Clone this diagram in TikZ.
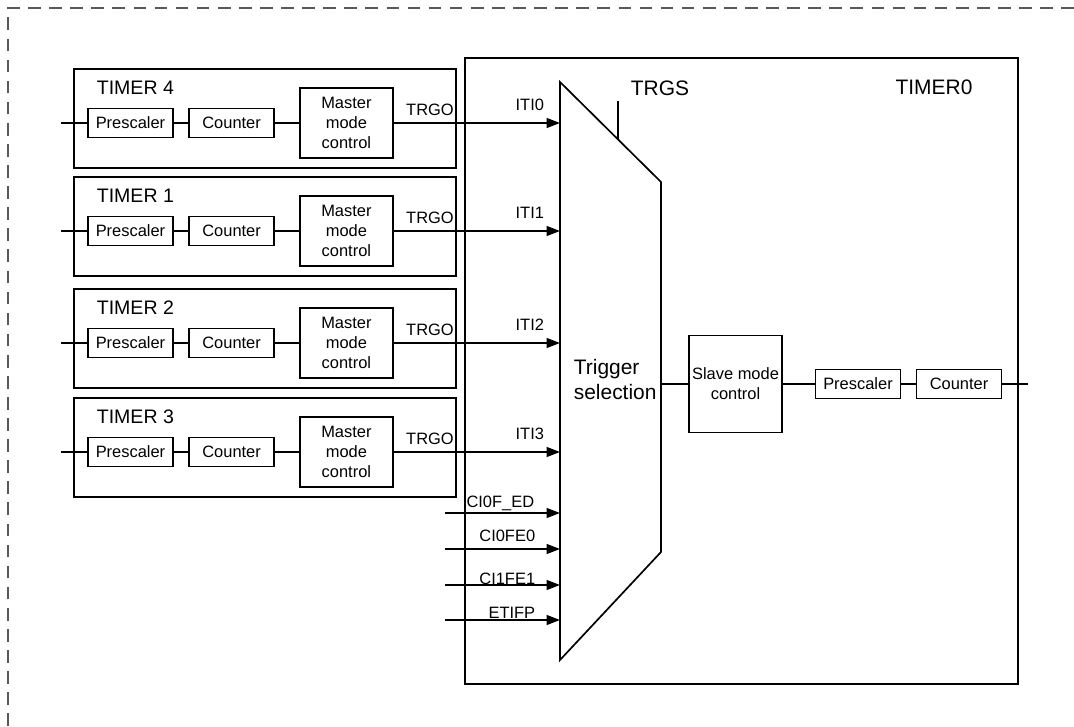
\documentclass[tikz,border=0pt]{standalone}
\usepackage{fontspec}
\setmainfont{Liberation Sans}
\setsansfont{Liberation Sans}
\usetikzlibrary{arrows.meta}

\begin{document}
\begin{tikzpicture}[font=\sffamily, line width=1.2pt,
  box/.style={draw, minimum width=2.125cm, minimum height=0.725cm, inner sep=0pt, font=\fontsize{11.7}{14.2}\selectfont},
  mmc/.style={draw, minimum width=2.325cm, minimum height=1.75cm, inner sep=0pt, align=center, font=\fontsize{11.7}{14.2}\selectfont},
  sig/.style={inner sep=0pt, font=\fontsize{11.7}{14.2}\selectfont},
  tname/.style={anchor=west, inner sep=0pt, font=\fontsize{13.9}{16}\selectfont},
  big/.style={inner sep=0pt, font=\fontsize{14.9}{17.8}\selectfont},
  arr/.style={-{Triangle[length=9.5pt,width=7pt]}}]
  \useasboundingbox (0,0) rectangle (26.85,18.15);

  % outer dashed frame
  \draw[gray!70!black, line width=1.4pt, dash pattern=on 9pt off 6pt] (0.21,0) -- (0.21,17.96) -- (26.85,17.96);

  % TIMER 4
  \draw (1.85,13.95) rectangle (11.4,16.425);
  \node[tname] (t4) at (2.4,15.95) {TIMER 4};
  \node[box] (p4) at (3.2625,15.075) {Prescaler};
  \node[box] (c4) at (5.79,15.075) {Counter};
  \node[mmc] (m4) at (8.66,15.075) {Master\\mode\\control};
  \node[sig] (trgo4) at (10.75,15.4) {TRGO};
  \coordinate (in4) at (1.525,15.075);
  \coordinate (iti0) at (14,15.075);
  \draw (in4) -- (p4) -- (c4) -- (m4);
  \draw[arr] (m4) -- (iti0);
  \node[sig, anchor=east] (iti0l) at (13.62,15.525) {ITI0};

  % TIMER 1
  \draw (1.85,11.25) rectangle (11.4,13.725);
  \node[tname] (t1) at (2.4,13.25) {TIMER 1};
  \node[box] (p1) at (3.2625,12.375) {Prescaler};
  \node[box] (c1) at (5.79,12.375) {Counter};
  \node[mmc] (m1) at (8.66,12.375) {Master\\mode\\control};
  \node[sig] (trgo1) at (10.75,12.7) {TRGO};
  \coordinate (in1) at (1.525,12.375);
  \coordinate (iti1) at (14,12.375);
  \draw (in1) -- (p1) -- (c1) -- (m1);
  \draw[arr] (m1) -- (iti1);
  \node[sig, anchor=east] (iti1l) at (13.62,12.825) {ITI1};

  % TIMER 2
  \draw (1.85,8.45) rectangle (11.4,10.925);
  \node[tname] (t2) at (2.4,10.45) {TIMER 2};
  \node[box] (p2) at (3.2625,9.575) {Prescaler};
  \node[box] (c2) at (5.79,9.575) {Counter};
  \node[mmc] (m2) at (8.66,9.575) {Master\\mode\\control};
  \node[sig] (trgo2) at (10.75,9.9) {TRGO};
  \coordinate (in2) at (1.525,9.575);
  \coordinate (iti2) at (14,9.575);
  \draw (in2) -- (p2) -- (c2) -- (m2);
  \draw[arr] (m2) -- (iti2);
  \node[sig, anchor=east] (iti2l) at (13.62,10.025) {ITI2};

  % TIMER 3
  \draw (1.85,5.725) rectangle (11.4,8.2);
  \node[tname] (t3) at (2.4,7.725) {TIMER 3};
  \node[box] (p3) at (3.2625,6.85) {Prescaler};
  \node[box] (c3) at (5.79,6.85) {Counter};
  \node[mmc] (m3) at (8.66,6.85) {Master\\mode\\control};
  \node[sig] (trgo3) at (10.75,7.175) {TRGO};
  \coordinate (in3) at (1.525,6.85);
  \coordinate (iti3) at (14,6.85);
  \draw (in3) -- (p3) -- (c3) -- (m3);
  \draw[arr] (m3) -- (iti3);
  \node[sig, anchor=east] (iti3l) at (13.62,7.3) {ITI3};

  % TIMER0
  \draw (11.625,1.05) rectangle (25.45,16.7);
  \node[big] (t0) at (23.35,15.975) {TIMER0};

  % trigger selection
  \coordinate (ts1) at (14,16.1);
  \coordinate (ts2) at (16.525,13.6);
  \coordinate (ts3) at (16.525,4.35);
  \coordinate (ts4) at (14,1.65);
  \draw (ts1) -- (ts2) -- (ts3) -- (ts4) -- cycle;
  \node[big, anchor=west, align=left] (trigsel) at (14.325,8.65) {Trigger\\selection};
  \coordinate (trgstop) at (15.45,15.625);
  \coordinate (trgsfoot) at (15.45,14.66);
  \draw (trgstop) -- (trgsfoot);
  \node[big, anchor=west] (trgs) at (15.75,15.95) {TRGS};

  % other trigger inputs
  \coordinate (cied) at (11.125,5.325);
  \coordinate (ciedin) at (14,5.325);
  \coordinate (cife0) at (11.125,4.425);
  \coordinate (cife0in) at (14,4.425);
  \coordinate (cife1) at (11.125,3.525);
  \coordinate (cife1in) at (14,3.525);
  \coordinate (etifp) at (11.125,2.65);
  \coordinate (etifpin) at (14,2.65);
  \draw[arr] (cied) -- (ciedin);
  \draw[arr] (cife0) -- (cife0in);
  \draw[arr] (cife1) -- (cife1in);
  \draw[arr] (etifp) -- (etifpin);
  \node[sig, anchor=east] (ciedl) at (13.375,5.575) {CI0F\_ED};
  \node[sig, anchor=east] (cife0l) at (13.4,4.75) {CI0FE0};
  \node[sig, anchor=east] (cife1l) at (13.4,3.675) {CI1FE1};
  \node[sig, anchor=east] (etifpl) at (13.4,2.825) {ETIFP};

  % slave chain
  \node[mmc, minimum height=2.425cm] (slave) at (18.3875,8.55) {Slave mode\\control};
  \node[box] (sp) at (21.45,8.55) {Prescaler};
  \node[box] (sc) at (23.975,8.55) {Counter};
  \coordinate (tsout) at (16.525,8.55);
  \coordinate (cntout) at (25.7,8.55);
  \draw (tsout) -- (slave) -- (sp) -- (sc) -- (cntout);
\end{tikzpicture}
\end{document}
